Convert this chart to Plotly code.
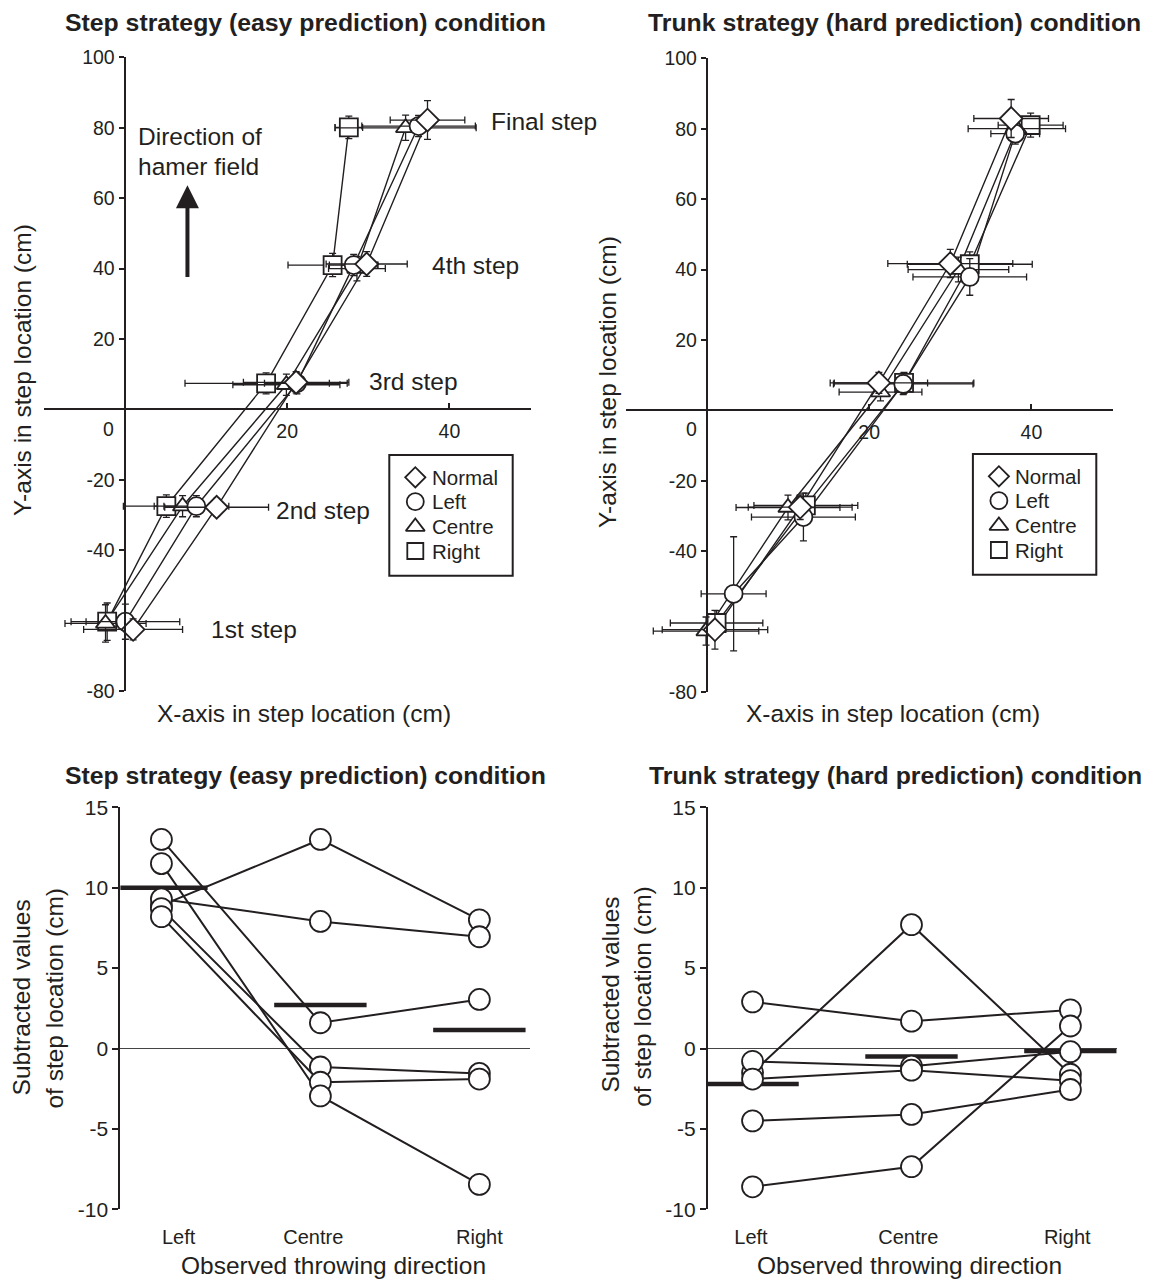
import plotly.graph_objects as go

# ---------------------------------------------------------------- data
conditions = ["Normal", "Left", "Centre", "Right"]
symbols = {"Normal": "diamond", "Left": "circle", "Centre": "triangle-up", "Right": "square"}
marker_sizes = {"Normal": 17.5, "Left": 18, "Centre": 17, "Right": 18}
legend_sizes = {"Normal": 15.5, "Left": 17, "Centre": 16.5, "Right": 16}

# Step strategy (easy prediction): mean step locations for steps 1..final
step_x = {
    "Normal": [1.0, 11.3, 21.1, 29.8, 37.3],
    "Left":   [0.05, 8.8, 21.2, 28.2, 36.2],
    "Centre": [-2.4, 7.1, 19.9, 28.6, 34.6],
    "Right":  [-2.2, 5.1, 17.4, 25.6, 27.6],
}
step_y = {
    "Normal": [-62.5, -27.8, 7.7, 41.3, 82.2],
    "Left":   [-60.3, -27.5, 7.4, 41.0, 80.5],
    "Centre": [-60.8, -27.5, 7.0, 40.0, 80.0],
    "Right":  [-60.3, -27.5, 7.4, 41.0, 80.1],
}
step_xerr = {
    "Normal": [6.1, 6.4, 6.5, 5.0, 4.6],
    "Left":   [6.7, 4.0, 4.0, 3.0, 7.0],
    "Centre": [5.0, 3.5, 6.6, 3.5, 8.7],
    "Right":  [2.6, 5.3, 10.0, 5.5, 1.7],
}
step_yerr = {
    "Normal": [3.0, 2.5, 3.0, 3.5, 5.5],
    "Left":   [5.0, 3.0, 3.0, 3.0, 3.0],
    "Centre": [5.3, 3.0, 3.0, 3.5, 3.6],
    "Right":  [5.3, 3.2, 3.0, 3.3, 3.2],
}

# Trunk strategy (hard prediction)
trunk_x = {
    "Normal": [1.0, 11.5, 21.2, 30.0, 37.5],
    "Left":   [3.3, 11.9, 24.2, 32.4, 38.0],
    "Centre": [-0.1, 10.0, 21.4, 31.0, 38.2],
    "Right":  [1.2, 12.2, 24.3, 32.4, 39.9],
}
trunk_y = {
    "Normal": [-62.3, -27.5, 7.8, 41.7, 82.9],
    "Left":   [-52.1, -30.3, 7.5, 37.9, 78.6],
    "Centre": [-62.7, -27.6, 5.2, 40.0, 80.0],
    "Right":  [-60.4, -27.0, 7.8, 41.5, 81.0],
}
trunk_xerr = {
    "Normal": [6.5, 6.4, 6.0, 7.7, 4.6],
    "Left":   [4.0, 6.4, 8.6, 7.0, 3.0],
    "Centre": [6.5, 6.4, 5.1, 6.2, 6.0],
    "Right":  [5.7, 6.4, 8.6, 7.7, 4.0],
}
trunk_yerr = {
    "Normal": [5.5, 3.5, 3.0, 4.0, 5.4],
    "Left":   [16.2, 6.8, 3.0, 5.2, 3.0],
    "Centre": [4.0, 3.5, 2.5, 3.5, 3.0],
    "Right":  [3.5, 3.5, 3.0, 3.5, 3.4],
}

step_labels = ["1st step", "2nd step", "3rd step", "4th step", "Final step"]
x_ticks_top = [20, 40]
y_ticks_top = [-80, -40, -20, 20, 40, 60, 80, 100]

# Subtracted values of step location per participant (Left, Centre, Right)
directions = ["Left", "Centre", "Right"]
dir_pos = [1, 2, 3]
easy_left   = [8.9, 9.3, 13.0, 8.7, 8.2, 11.5]
easy_centre = [13.0, 7.9, 1.6, -1.15, -2.1, -2.95]
easy_right  = [8.0, 6.95, 3.05, -1.55, -1.9, -8.45]
easy_mean   = [10.0, 2.7, 1.15]

hard_left   = [2.9, -1.5, -0.8, -1.9, -4.5, -8.6]
hard_centre = [1.7, 7.7, -1.1, -1.35, -4.1, -7.35]
hard_right  = [2.4, -1.6, -0.2, -2.0, -2.55, 1.4]
hard_mean   = [-2.2, -0.5, -0.15]
y_ticks_bottom = [-10, -5, 0, 5, 10, 15]

# ---------------------------------------------------------------- style
W, H = 1152, 1280
INK = "#231f20"
FONT = "Liberation Sans, Arial, sans-serif"


def fx(px):
    return px / W


def fy(py):
    return 1 - py / H


fig = go.Figure()


def add_trajectories(xs, ys, xerrs, yerrs, xa, ya):
    for c in conditions:
        fig.add_trace(go.Scatter(
            x=xs[c], y=ys[c], mode="lines", xaxis=xa, yaxis=ya,
            line=dict(color=INK, width=1.4), showlegend=False, hoverinfo="skip"))
    for c in reversed(conditions):
        fig.add_trace(go.Scatter(
            x=xs[c], y=ys[c], mode="markers", name=c, xaxis=xa, yaxis=ya, showlegend=False,
            marker=dict(symbol=symbols[c], size=marker_sizes[c], color="white",
                        line=dict(color=INK, width=1.8)),
            error_x=dict(type="data", array=xerrs[c], color=INK, thickness=1.3, width=3.5),
            error_y=dict(type="data", array=yerrs[c], color=INK, thickness=1.3, width=3.5)))


add_trajectories(step_x, step_y, step_xerr, step_yerr, "x", "y")
add_trajectories(trunk_x, trunk_y, trunk_xerr, trunk_yerr, "x2", "y2")


def add_subjects(left, centre, right, means, xa, ya):
    for i in range(len(left)):
        fig.add_trace(go.Scatter(
            x=dir_pos, y=[left[i], centre[i], right[i]], mode="lines",
            xaxis=xa, yaxis=ya, line=dict(color=INK, width=2),
            showlegend=False, hoverinfo="skip"))
    fig.add_trace(go.Scatter(
        x=dir_pos, y=means, mode="markers", xaxis=xa, yaxis=ya, showlegend=False,
        marker=dict(symbol="line-ew", size=66, color=INK, line=dict(color=INK, width=4.5))))
    xs, ys = [], []
    for i in range(len(left)):
        xs += dir_pos
        ys += [left[i], centre[i], right[i]]
    fig.add_trace(go.Scatter(
        x=xs, y=ys, mode="markers", xaxis=xa, yaxis=ya, showlegend=False,
        marker=dict(symbol="circle", size=21, color="white", line=dict(color=INK, width=1.8))))


add_subjects(easy_left, easy_centre, easy_right, easy_mean, "x3", "y3")
add_subjects(hard_left, hard_centre, hard_right, hard_mean, "x4", "y4")

# ---------------------------------------------------------------- legend boxes
# drawn on a pixel-unit overlay so the key keeps a fixed row spacing
legend_boxes = [(389.3, 455, 512.7, 575.7), (972.9, 454, 1096.3, 574.7)]
row_offsets = [22.3, 46.7, 71.7, 96.0]
ann = []
for (x0, y0, x1, y1) in legend_boxes:
    fig.add_shape(type="rect", xref="paper", yref="paper", x0=fx(x0), x1=fx(x1), y0=fy(y1), y1=fy(y0),
                  line=dict(color=INK, width=2), fillcolor="white", layer="below")
    for c, dy in zip(conditions, row_offsets):
        fig.add_trace(go.Scatter(
            x=[x0 + 26], y=[y0 + dy], mode="markers", xaxis="x5", yaxis="y5", showlegend=False,
            hoverinfo="skip",
            marker=dict(symbol=symbols[c], size=legend_sizes[c], color="white",
                        line=dict(color=INK, width=1.8))))
        ann.append(dict(x=x0 + 40.5, y=y0 + dy, xref="x5", yref="y5", text=c, showarrow=False,
                        xanchor="left", yanchor="middle",
                        font=dict(family=FONT, size=20.5, color=INK)))

# ---------------------------------------------------------------- axes
tick_font = dict(family=FONT, size=19.5, color=INK)

top_common_x = dict(range=[-10, 50], anchor="free", showline=True, linecolor=INK, linewidth=2,
                    ticks="inside", ticklen=5, tickwidth=1.5, tickcolor=INK,
                    tickvals=x_ticks_top, ticktext=[str(v) for v in x_ticks_top],
                    showgrid=False, zeroline=False, tickfont=tick_font, ticklabelstandoff=4,
                    automargin=False)
top_common_y = dict(range=[-80, 100], anchor="free", showline=True, linecolor=INK, linewidth=2,
                    ticks="outside", ticklen=5, tickwidth=1.5, tickcolor=INK,
                    tickvals=y_ticks_top, ticktext=[str(v) for v in y_ticks_top],
                    showgrid=False, zeroline=False, tickfont=tick_font, automargin=False)

bottom_common_x = dict(showline=False, showgrid=False, zeroline=False, ticks="outside",
                       ticklen=10, tickcolor="rgba(0,0,0,0)", automargin=False,
                       tickfont=dict(family=FONT, size=20, color=INK))
bottom_common_y = dict(range=[-10, 15], showline=True, linecolor=INK, linewidth=2, ticks="outside",
                       ticklen=6, tickwidth=1.5, tickcolor=INK,
                       tickvals=y_ticks_bottom, ticktext=[str(v) for v in y_ticks_bottom],
                       showgrid=False, zeroline=True, zerolinecolor="#444444", zerolinewidth=1,
                       tickfont=dict(family=FONT, size=21, color=INK), automargin=False)

fig.update_layout(
    xaxis=dict(top_common_x, domain=[fx(43.9), fx(530.5)], position=fy(409.4)),
    yaxis=dict(top_common_y, domain=[fy(691), fy(57.4)], position=fx(124.6)),
    xaxis2=dict(top_common_x, domain=[fx(625.7), fx(1112.6)], position=fy(410.3)),
    yaxis2=dict(top_common_y, domain=[fy(692), fy(58.3)], position=fx(706.85)),
    xaxis3=dict(bottom_common_x, domain=[fx(120.4), fx(530.4)], range=[0.742, 3.321], anchor="y3",
                tickvals=[1.108, 1.955, 3.0], ticktext=directions),
    yaxis3=dict(bottom_common_y, domain=[fy(1209.3), fy(807.3)], anchor="x3"),
    xaxis4=dict(bottom_common_x, domain=[fx(707.9), fx(1116.8)], range=[0.719, 3.292], anchor="y4",
                tickvals=[0.99, 1.98, 2.98], ticktext=directions),
    yaxis4=dict(bottom_common_y, domain=[fy(1209.3), fy(807.3)], anchor="x4"),
    # pixel overlay used by the legend keys
    xaxis5=dict(domain=[0, 1], range=[0, W], visible=False, anchor="y5", automargin=False),
    yaxis5=dict(domain=[0, 1], range=[H, 0], visible=False, anchor="x5", automargin=False),
)

# ---------------------------------------------------------------- text


def text(px, py, s, size=24.5, bold=False, angle=0, xanchor="center"):
    ann.append(dict(x=fx(px), y=fy(py), xref="paper", yref="paper", text=f"<b>{s}</b>" if bold else s,
                    showarrow=False, xanchor=xanchor, yanchor="middle", textangle=angle,
                    font=dict(family=FONT, size=size, color=INK)))


text(305.5, 22, "Step strategy (easy prediction) condition", size=24.8, bold=True)
text(894, 22, "Trunk strategy (hard prediction) condition", size=24.8, bold=True)
text(305, 775, "Step strategy (easy prediction) condition", size=24.8, bold=True)
text(895, 775, "Trunk strategy (hard prediction) condition", size=24.8, bold=True)

text(304, 713, "X-axis in step location (cm)")
text(893, 713, "X-axis in step location (cm)")
text(22, 370, "Y-axis in step location (cm)", angle=-90)
text(607, 382, "Y-axis in step location (cm)", angle=-90)

text(333, 1265, "Observed throwing direction")
text(909, 1265, "Observed throwing direction")
text(21.4, 997, "Subtracted values", angle=-90)
text(53.6, 998, "of step location (cm)", angle=-90)
text(609.6, 995, "Subtracted values", angle=-90)
text(641.8, 996, "of step location (cm)", angle=-90)

# origin labels of the x axes, set beside the vertical axis
text(108.9, 429.3, "0", size=19.5)
text(691.8, 429.3, "0", size=19.5)

# step annotations placed next to the Normal trajectory
step_label_pos = [(10.4, -62.5), (18.4, -28.6), (29.8, 7.8), (37.6, 41.0), (44.9, 81.9)]
for lab, (lx, ly) in zip(step_labels, step_label_pos):
    ann.append(dict(x=lx, y=ly, xref="x", yref="y", text=lab, showarrow=False,
                    xanchor="left", yanchor="middle", font=dict(family=FONT, size=24.5, color=INK)))

ann.append(dict(x=1.3, y=77.4, xref="x", yref="y", text="Direction of", showarrow=False,
                xanchor="left", yanchor="middle", font=dict(family=FONT, size=24.5, color=INK)))
ann.append(dict(x=1.3, y=69.1, xref="x", yref="y", text="hamer field", showarrow=False,
                xanchor="left", yanchor="middle", font=dict(family=FONT, size=24.5, color=INK)))
ann.append(dict(x=7.7, y=63.7, ax=7.7, ay=37.2, xref="x", yref="y", axref="x", ayref="y",
                text="", showarrow=True, arrowhead=2, arrowsize=1.15, arrowwidth=4,
                arrowcolor=INK, standoff=0))

fig.update_layout(
    annotations=ann,
    width=W, height=H,
    margin=dict(l=0, r=0, t=0, b=0, autoexpand=False),
    paper_bgcolor="white", plot_bgcolor="rgba(0,0,0,0)",
    font=dict(family=FONT, color=INK),
    showlegend=False,
)

fig.write_html("out.html")
